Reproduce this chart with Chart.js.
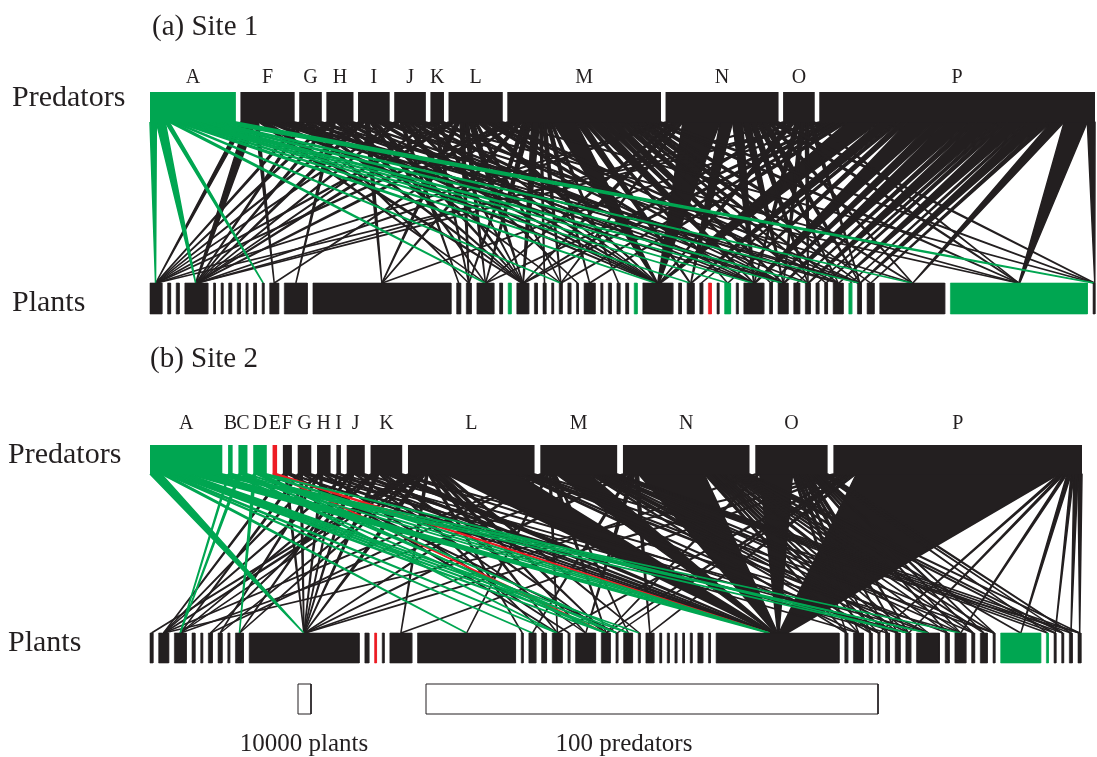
<!DOCTYPE html>
<html>
<head>
  <title>Plant - predator webs</title>
  <script src="https://cdn.jsdelivr.net/npm/chart.js"></script>
  <style>
    body { margin: 0; background: #fff; }
    canvas { display: block; }
  </style>
</head>
<body>
<canvas id="webCanvas" width="1097" height="757"></canvas>
<script>
// ---- data: site 1 ----
const site1Predators = ['A', 'F', 'G', 'H', 'I', 'J', 'K', 'L', 'M', 'N', 'O', 'P'];
const site1PredatorCounts = [19, 12, 5, 6, 7, 7, 3, 12, 34, 25, 7, 61];
// plant abundance in thousands, left to right (plants numbered from 1)
const site1PlantCounts = [
  9.2, 2.3, 2.3, 17.7, 1.5, 1.5, 2.3, 2.3, 1.5, 2.3,
  1.5, 6.9, 17.7, 106.2, 3.1, 3.8, 13.1, 2.3, 2.3, 9.2,
  2.3, 2.3, 1.5, 2.3, 2.3, 1.5, 8.5, 1.5, 2.3, 2.3,
  2.3, 2.3, 23.1, 2.3, 5.4, 2.3, 2.3, 1.5, 4.6, 1.5,
  15.4, 2.3, 7.7, 4.6, 3.8, 2.3, 2.3, 7.7, 2.3, 3.1,
  5.4, 50.0, 105.4, 1.5
];
const site1GreenPredators = ['A'];
const site1RedPredators = [];
const site1GreenPlants = [19, 32, 39, 49, 53];
const site1RedPlants = [37];
// [predator, plant number, interactions]
const site1Links = [
  ['A',1,5],['A',4,7],['A',11,3],['A',17,3],['A',24,2],['A',33,5],['A',35,3],['A',39,2],['A',41,3],['A',43,3],['A',45,6],['A',50,5],['A',52,5],['A',54,16],
  ['F',1,3],['F',4,6],['F',12,2],['F',17,2],['F',20,3],['F',33,4],['F',41,3],['F',43,3],['F',48,2],['F',50,2],['F',53,3],
  ['G',1,2],['G',4,2],['G',16,2],['G',20,3],['G',33,3],['G',43,2],['G',50,2],
  ['H',1,2],['H',4,2],['H',13,2],['H',20,3],['H',24,2],['H',33,3],['H',41,2],['H',48,2],
  ['I',1,2],['I',4,3],['I',14,3],['I',17,2],['I',20,3],['I',33,3],['I',43,2],['I',45,2],['I',52,2],
  ['J',1,2],['J',4,2],['J',15,2],['J',20,3],['J',26,2],['J',33,4],['J',41,3],['J',50,2],['J',53,2],
  ['K',4,2],['K',16,2],['K',20,2],['K',33,2],['K',43,2],
  ['L',1,2],['L',4,3],['L',14,3],['L',16,3],['L',17,3],['L',20,4],['L',24,2],['L',33,5],['L',41,3],['L',43,3],['L',48,2],['L',50,3],['L',54,2],
  ['M',1,3],['M',4,4],['M',12,2],['M',14,3],['M',16,3],['M',17,4],['M',20,6],['M',22,2],['M',24,3],['M',27,3],['M',30,2],['M',33,18],['M',35,6],
  ['M',39,3],['M',41,10],['M',42,5],['M',43,8],['M',45,6],['M',47,3],['M',48,5],['M',50,6],['M',51,3],['M',52,4],['M',53,4],['M',54,3],
  ['N',1,2],['N',4,3],['N',17,3],['N',20,4],['N',24,2],['N',33,30],['N',35,10],['N',41,8],['N',43,6],['N',45,5],['N',48,4],['N',50,5],['N',52,3],['N',53,3],['N',54,3],
  ['O',4,2],['O',20,3],['O',33,5],['O',41,4],['O',43,4],['O',45,3],['O',50,3],['O',53,2],
  ['P',1,2],['P',4,3],['P',14,2],['P',17,3],['P',20,5],['P',24,3],['P',27,4],['P',33,25],['P',35,12],['P',36,4],['P',39,6],['P',41,20],['P',42,10],
  ['P',43,18],['P',44,6],['P',45,15],['P',46,4],['P',47,5],['P',48,14],['P',49,3],['P',50,12],['P',51,5],['P',52,10],['P',53,18],['P',54,6]
];

// ---- data: site 2 ----
const site2Predators = ['A', 'B', 'C', 'D', 'E', 'F', 'G', 'H', 'I', 'J', 'K', 'L', 'M', 'N', 'O', 'P'];
const site2PredatorCounts = [16, 1, 2, 3, 1, 2, 3, 3, 1, 4, 7, 28, 17, 28, 16, 55];
const site2PlantCounts = [
  2.3, 7.7, 9.2, 2.3, 1.5, 3.1, 3.1, 1.5, 6.2, 84.6,
  3.1, 1.5, 1.5, 16.9, 75.4, 1.5, 5.4, 3.8, 7.7, 1.5,
  15.4, 6.9, 1.5, 6.9, 1.5, 6.2, 1.5, 1.5, 1.5, 1.5,
  1.5, 3.8, 1.5, 94.6, 2.3, 7.7, 2.3, 1.5, 3.1, 3.8,
  3.8, 17.7, 3.1, 8.5, 2.3, 5.4, 1.5, 30.8, 1.5, 1.5,
  1.5, 2.3, 2.3
];
const site2GreenPredators = ['A', 'B', 'C', 'D'];
const site2RedPredators = ['E'];
const site2GreenPlants = [48, 49];
const site2RedPlants = [12];
const site2Links = [
  ['A',10,10],['A',15,3],['A',17,2],['A',19,3],['A',22,5],['A',23,4],['A',24,3],['A',25,3],['A',34,22],['A',41,3],['A',42,4],['A',44,2],
  ['B',3,2],['B',22,2],['B',34,2],['B',42,1],
  ['C',3,2],['C',19,2],['C',23,2],['C',34,2],
  ['D',9,2],['D',22,2],['D',24,2],['D',34,3],['D',41,2],
  ['E',22,1],['E',34,4],
  ['F',2,2],['F',10,2],['F',23,2],['F',34,3],
  ['G',3,2],['G',10,2],['G',19,2],['G',34,4],['G',36,2],
  ['H',2,2],['H',7,2],['H',10,2],['H',20,2],['H',34,4],['H',39,2],
  ['I',10,2],['I',34,3],['I',41,2],
  ['J',2,2],['J',9,2],['J',10,2],['J',21,2],['J',34,5],['J',42,2],
  ['K',3,2],['K',6,2],['K',10,3],['K',18,2],['K',22,3],['K',34,10],['K',40,2],['K',44,2],
  ['L',1,2],['L',2,3],['L',3,2],['L',7,2],['L',9,2],['L',10,4],['L',14,2],['L',16,2],['L',19,3],['L',21,3],['L',22,4],['L',25,3],['L',34,60],
  ['L',36,3],['L',38,2],['L',42,4],['L',43,2],['L',47,2],['L',53,2],
  ['M',2,2],['M',6,2],['M',10,3],['M',15,2],['M',19,2],['M',22,3],['M',24,2],['M',34,35],['M',35,2],['M',37,2],['M',38,2],['M',40,2],['M',41,3],
  ['M',42,2],['M',44,2],['M',45,2],['M',47,2],['M',49,2],['M',50,2],['M',51,2],['M',52,2],['M',53,2],
  ['N',3,2],['N',10,3],['N',17,2],['N',21,3],['N',26,3],['N',34,55],['N',35,3],['N',36,2],['N',37,2],['N',38,3],['N',39,2],['N',40,2],['N',41,2],
  ['N',42,4],['N',43,2],['N',44,2],['N',45,2],['N',46,2],['N',47,2],['N',48,2],['N',50,2],['N',51,2],['N',53,2],
  ['O',10,2],['O',22,2],['O',34,30],['O',35,2],['O',36,3],['O',37,2],['O',39,3],['O',40,2],['O',41,3],['O',43,2],['O',44,2],['O',45,2],
  ['O',46,3],['O',47,2],['O',49,2],['O',51,2],['O',52,2],
  ['P',2,2],['P',10,3],['P',14,2],['P',19,2],['P',22,3],['P',23,2],['P',26,3],['P',34,150],['P',38,2],['P',41,2],['P',44,2],['P',48,3],
  ['P',50,2],['P',52,3],['P',53,3]
];

// scale bars: [label, amount, which row scale]
const scaleBars = [['10000 plants', 10, 'plant'], ['100 predators', 100, 'predator']];

// ---- layout / style ----
const GREEN = '#00a651', BLACK = '#231f20', RED = '#ed1c24';
const PX_PER_PREDATOR = 4.52;   // axis units per predator
const PX_PER_KPLANT = 1.3;      // axis units per 1000 plants
const TIP_RATIO = 0.04;         // link width at the plant end
const LINK_EDGE = 1.5;
const FONT = '"Liberation Serif", "DejaVu Serif", serif';

const panels = [
  { title: '(a) Site 1', titleX: 152, titleY: 27, predY: [92, 122], plantY: [283, 314], labelY: 78,
    nameX: 12, predNameY: 98, plantNameY: 303, x0: 150, predEnd: 1095, plantEnd: 1095,
    preds: site1Predators, predCounts: site1PredatorCounts, plantCounts: site1PlantCounts,
    greenPreds: site1GreenPredators, redPreds: site1RedPredators,
    greenPlants: site1GreenPlants, redPlants: site1RedPlants, links: site1Links },
  { title: '(b) Site 2', titleX: 150, titleY: 359, predY: [445, 474], plantY: [633, 663], labelY: 424,
    nameX: 8, predNameY: 455, plantNameY: 643, x0: 150, predEnd: 1082, plantEnd: 1081,
    preds: site2Predators, predCounts: site2PredatorCounts, plantCounts: site2PlantCounts,
    greenPreds: site2GreenPredators, redPreds: site2RedPredators,
    greenPlants: site2GreenPlants, redPlants: site2RedPlants, links: site2Links }
];
const scaleLayout = { plant: { x: 298, textX: 304 }, predator: { x: 426, textX: 624 }, y: [684, 714], textY: 744 };

function rowSpans(sizes, unit, x0, x1) {
  const w = sizes.map(s => s * unit);
  const total = w.reduce((a, b) => a + b, 0);
  const gap = (x1 - x0 - total) / (sizes.length - 1);
  let x = x0;
  return w.map(wi => { const s = [x, x + wi]; x += wi + gap; return s; });
}

function quad(a, b, c, d, yTop, yBot) {
  return [{x: a, y: yTop}, {x: b, y: yTop}, {x: c, y: yBot}, {x: d, y: yBot}, {x: a, y: yTop}];
}

function shape(points, color, border, borderColor) {
  return {
    data: points, fill: 'shape', backgroundColor: color,
    borderColor: borderColor || color, borderWidth: border,
    borderJoinStyle: 'bevel', pointRadius: 0, pointHoverRadius: 0
  };
}

const boxSets = [], colourLinkSets = [], blackLinkSets = [];

panels.forEach(p => {
  p.predSpans = rowSpans(p.predCounts, PX_PER_PREDATOR, p.x0, p.predEnd);
  const plantSpans = rowSpans(p.plantCounts, PX_PER_KPLANT, p.x0, p.plantEnd);
  const predColor = name => p.greenPreds.includes(name) ? GREEN : (p.redPreds.includes(name) ? RED : BLACK);
  const plantColor = n => p.greenPlants.includes(n) ? GREEN : (p.redPlants.includes(n) ? RED : BLACK);

  p.predSpans.forEach((s, i) => boxSets.push(shape(quad(s[0], s[1], s[1], s[0], p.predY[0], p.predY[1]), predColor(p.preds[i]), 0)));
  plantSpans.forEach((s, i) => boxSets.push(shape(quad(s[0], s[1], s[1], s[0], p.plantY[0], p.plantY[1]), plantColor(i + 1), 0.6)));

  const links = p.links.map(([pred, plant, n]) => ({ pi: p.preds.indexOf(pred), qi: plant - 1, n, color: predColor(pred) }));

  // each predator's bottom edge is shared out among its links, in plant order
  p.predSpans.forEach((s, pi) => {
    const mine = links.filter(l => l.pi === pi).sort((a, b) => a.qi - b.qi);
    const tot = mine.reduce((a, l) => a + l.n, 0);
    let x = s[0];
    mine.forEach(l => { l.t0 = x; l.tw = (s[1] - s[0]) * l.n / tot; x += l.tw; l.t1 = x; });
  });
  // links meet each plant near its centre
  plantSpans.forEach((s, qi) => {
    const mine = links.filter(l => l.qi === qi).sort((a, b) => a.pi - b.pi);
    const tot = mine.reduce((a, l) => a + l.tw * TIP_RATIO, 0);
    let x = (s[0] + s[1]) / 2 - tot / 2;
    mine.forEach(l => { l.b0 = x; x += l.tw * TIP_RATIO; l.b1 = x; });
  });

  links.forEach(l => {
    const ds = shape(quad(l.t0, l.t1, l.b1, l.b0, p.predY[1], p.plantY[0]), l.color, LINK_EDGE);
    (l.color === BLACK ? blackLinkSets : colourLinkSets).push(ds);
  });
});

scaleBars.forEach(([label, amount, kind]) => {
  const w = amount * (kind === 'plant' ? PX_PER_KPLANT : PX_PER_PREDATOR);
  const x = scaleLayout[kind].x;
  boxSets.push(shape(quad(x, x + w, x + w, x, scaleLayout.y[0], scaleLayout.y[1]), '#ffffff', 1, BLACK));
});

const textPlugin = {
  id: 'webText',
  afterDraw(chart) {
    const {ctx, scales: {x, y}} = chart;
    ctx.save();
    ctx.fillStyle = BLACK;
    ctx.textBaseline = 'middle';
    panels.forEach(p => {
      ctx.textAlign = 'left';
      ctx.font = '29px ' + FONT;
      ctx.fillText(p.title, x.getPixelForValue(p.titleX), y.getPixelForValue(p.titleY));
      ctx.font = '30px ' + FONT;
      ctx.fillText('Predators', x.getPixelForValue(p.nameX), y.getPixelForValue(p.predNameY));
      ctx.fillText('Plants', x.getPixelForValue(p.nameX), y.getPixelForValue(p.plantNameY));
      ctx.textAlign = 'center';
      ctx.font = '20px ' + FONT;
      p.preds.forEach((name, i) => {
        const s = p.predSpans[i];
        ctx.fillText(name, x.getPixelForValue((s[0] + s[1]) / 2), y.getPixelForValue(p.labelY));
      });
    });
    ctx.font = '25px ' + FONT;
    ctx.textAlign = 'center';
    scaleBars.forEach(([label, , kind]) => {
      ctx.fillText(label, x.getPixelForValue(scaleLayout[kind].textX), y.getPixelForValue(scaleLayout.textY));
    });
    ctx.restore();
  }
};

new Chart(document.getElementById('webCanvas'), {
  type: 'line',
  data: { datasets: boxSets.concat(colourLinkSets, blackLinkSets) },
  options: {
    responsive: false,
    animation: false,
    events: [],
    layout: { padding: 0 },
    scales: {
      x: { type: 'linear', min: 0, max: 1097, display: false },
      y: { type: 'linear', min: 0, max: 757, reverse: true, display: false }
    },
    plugins: { legend: { display: false }, tooltip: { enabled: false } }
  },
  plugins: [textPlugin]
});
</script>
</body>
</html>
